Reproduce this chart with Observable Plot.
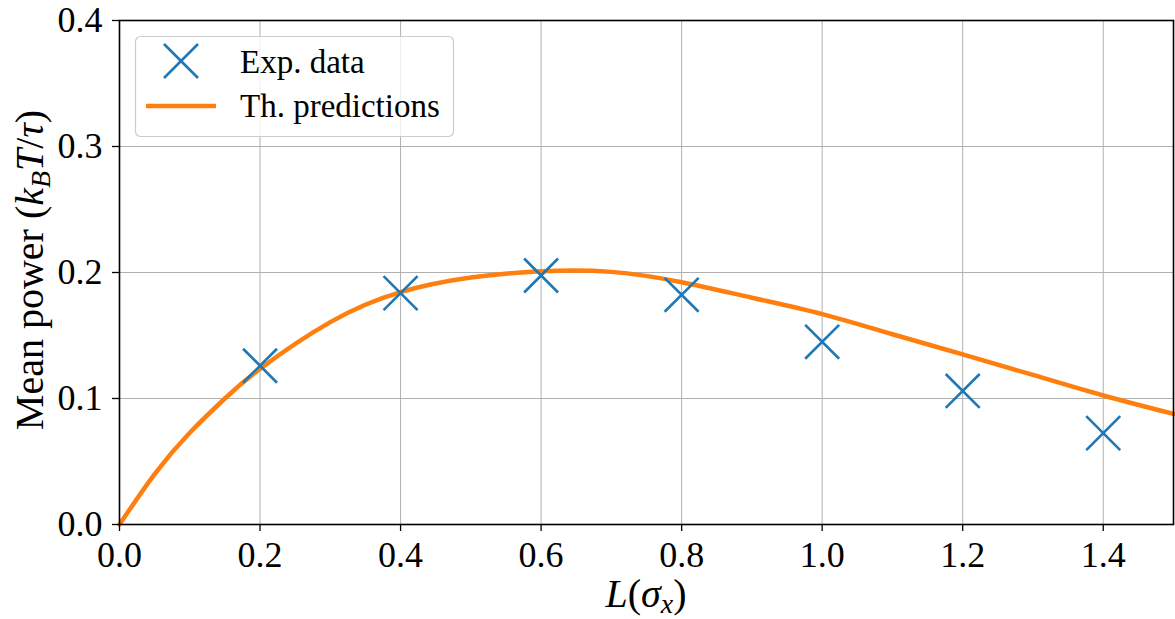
<!DOCTYPE html>
<html><head><meta charset="utf-8">
<script src="https://cdn.jsdelivr.net/npm/d3@7"></script>
<script src="https://cdn.jsdelivr.net/npm/@observablehq/plot@0.6"></script>
<style>
body{margin:0;background:#fff;}
#chart{position:relative;width:1175px;height:619px;}
</style></head><body><div id="chart"></div>
<script>
// Experimental data
const expL = [0.2, 0.4, 0.6, 0.8, 1.0, 1.2, 1.4];
const expPower = [0.126, 0.1836, 0.1976, 0.1823, 0.145, 0.106, 0.0725];
// Theoretical prediction
const thL = [0, 0.05, 0.1, 0.15, 0.2, 0.3, 0.4, 0.5, 0.6, 0.7, 0.8, 0.9, 1.0, 1.1, 1.2, 1.3, 1.4, 1.5];
const thPower = [0, 0.040, 0.0728, 0.100, 0.1235, 0.1606, 0.1844, 0.196, 0.201, 0.2005, 0.1923, 0.180, 0.167, 0.151, 0.135, 0.1187, 0.1024, 0.0878];
const xTicks = [0, 0.2, 0.4, 0.6, 0.8, 1.0, 1.2, 1.4];
const yTicks = [0, 0.1, 0.2, 0.3, 0.4];
const seriesNames = ["Exp. data", "Th. predictions"];
const colors = ["#1f77b4", "#ff7f0e"];

const exp = expL.map((x, i) => ({x, y: expPower[i]}));
const th = thL.map((x, i) => ({x, y: thPower[i]}));
const fmt = d3.format(".1f");
const FONT = "'Liberation Serif', 'DejaVu Serif', serif";

const svg = Plot.plot({
  width: 1175, height: 619,
  marginLeft: 119, marginRight: 2, marginTop: 20, marginBottom: 95,
  style: {fontFamily: FONT, fontSize: "36px", background: "white", color: "black"},
  x: {domain: [0, 1.5], label: null},
  y: {domain: [0, 0.4], label: null},
  marks: [
    Plot.gridX(xTicks, {stroke: "#b0b0b0", strokeOpacity: 1, strokeWidth: 1}),
    Plot.gridY(yTicks, {stroke: "#b0b0b0", strokeOpacity: 1, strokeWidth: 1}),
    Plot.line(th, {x: "x", y: "y", stroke: colors[1], strokeWidth: 4.5, curve: "natural"}),
    Plot.dot(exp, {x: "x", y: "y", symbol: "times", r: 15.5, stroke: colors[0], fill: "none", strokeWidth: 2.6}),
    Plot.axisX(xTicks, {tickSize: 7, tickPadding: 10, fontSize: 36, strokeWidth: 1.3, tickFormat: fmt, label: null}),
    Plot.axisY(yTicks, {tickSize: 7, tickPadding: 10, fontSize: 36, strokeWidth: 1.3, tickFormat: fmt, label: null}),
    Plot.frame({stroke: "black", strokeWidth: 1.6})
  ]
});
document.getElementById("chart").appendChild(svg);

const s = d3.select(svg);
// Y label
const yl = s.append("text")
  .attr("transform", "translate(43,270) rotate(-90)")
  .attr("text-anchor", "middle")
  .attr("font-family", FONT).attr("font-size", 40).attr("fill", "black");
yl.append("tspan").text("Mean power (");
yl.append("tspan").attr("font-style", "italic").text("k");
yl.append("tspan").attr("font-style", "italic").attr("font-size", 28).attr("dy", 7).text("B");
yl.append("tspan").attr("font-style", "italic").attr("dy", -7).text("T");
yl.append("tspan").text("/");
yl.append("tspan").attr("font-style", "italic").text("τ");
yl.append("tspan").text(")");
// X label
const xl = s.append("text")
  .attr("x", 646).attr("y", 607)
  .attr("text-anchor", "middle")
  .attr("font-family", FONT).attr("font-size", 40).attr("fill", "black");
xl.append("tspan").attr("font-style", "italic").text("L");
xl.append("tspan").text("(");
xl.append("tspan").attr("font-style", "italic").text("σ");
xl.append("tspan").attr("font-style", "italic").attr("font-size", 28).attr("dy", 6).text("x");
xl.append("tspan").attr("dy", -6).text(")");

// Legend
const lg = s.append("g");
lg.append("rect").attr("x", 135.5).attr("y", 36.5).attr("width", 318).attr("height", 100).attr("rx", 5)
  .attr("fill", "white").attr("fill-opacity", 0.8).attr("stroke", "#cccccc").attr("stroke-width", 1.2);
const mx = 181, my = 61, h = 17;
lg.append("path").attr("d", `M${mx-h},${my-h}L${mx+h},${my+h}M${mx-h},${my+h}L${mx+h},${my-h}`)
  .attr("stroke", colors[0]).attr("stroke-width", 2.6).attr("fill", "none");
lg.append("line").attr("x1", 146).attr("x2", 216).attr("y1", 106).attr("y2", 106)
  .attr("stroke", colors[1]).attr("stroke-width", 4.5);
lg.selectAll("text.lt").data(seriesNames).join("text").attr("class", "lt")
  .attr("x", 240).attr("y", (d, i) => 73 + i * 44)
  .attr("text-anchor", "start")
  .attr("font-family", FONT).attr("font-size", 33).attr("fill", "black").text(d => d);
</script></body></html>
